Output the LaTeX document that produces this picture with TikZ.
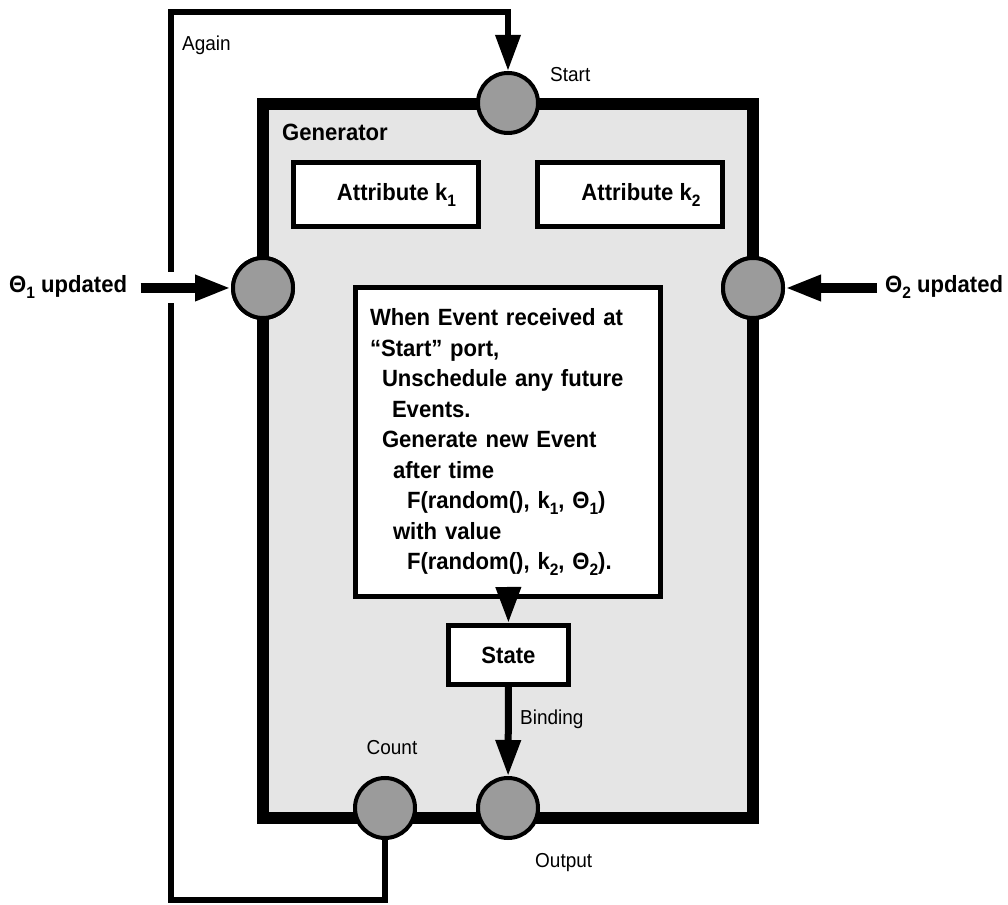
\documentclass[tikz,border=0pt]{standalone}
\usepackage{fontspec}
\setmainfont[FakeStretch=0.94]{Liberation Sans}
\usetikzlibrary{arrows.meta,calc}
\definecolor{cPanel}{HTML}{E5E5E5}
\definecolor{cPort} {HTML}{9B9B9B}
\newcommand{\lowidx}[1]{\raisebox{-6pt}{\fontsize{16.5}{17}\selectfont#1}}
\tikzset{
  panel/.style ={draw,line width=12pt,fill=cPanel,inner sep=0pt,
                 minimum width=490pt,minimum height=714pt},
  box/.style   ={draw,line width=5pt,fill=white,inner sep=0pt,
                 font=\bfseries\fontsize{23.5}{30.5}\selectfont},
  port/.style  ={circle,draw,line width=4pt,fill=cPort,inner sep=0pt,
                 minimum size=60pt},
  lbl/.style   ={font=\fontsize{20.2}{24}\selectfont,inner sep=0pt},
  ttl/.style   ={font=\bfseries\fontsize{23.5}{28}\selectfont,inner sep=0pt},
  wire/.style  ={line width=6.5pt,line join=miter},
  tip/.style   ={-{Triangle[length=36pt,width=24pt]}},
  sig/.style   ={tip,line width=7pt},
  feed/.style  ={tip,line width=10pt},
  gap/.style   ={preaction={draw=white,line width=31pt,-}},
}

\begin{document}
\begin{tikzpicture}[x=1pt,y=1pt]
\useasboundingbox (0,0) rectangle (1008,904);

\node[panel] (gen) at (508,443) {};
\node[ttl,anchor=base west] (genlbl) at ($(gen.north west)+(25,-43)$) {Generator};

\node[box,minimum width=185pt,minimum height=64pt] (k1) at (385.5,709)
  {\hspace*{22pt}Attribute k\lowidx{1}};
\node[box,minimum width=185pt,minimum height=64pt] (k2) at (630,709)
  {\hspace*{22pt}Attribute k\lowidx{2}};

\node[box,line width=4.7pt,align=left,text width=276pt,inner xsep=14.5pt,
      minimum height=309pt] (ev) at (508,462)
  {When Event received at\\
   ``Start'' port,\\
   \hspace*{12pt}Unschedule any future\\
   \hspace*{22pt}Events.\\
   \hspace*{12pt}Generate new Event\\
   \hspace*{23pt}after time\\
   \hspace*{37pt}F(random(), k\lowidx{1}, Θ\lowidx{1})\\
   \hspace*{23pt}with value\\
   \hspace*{37pt}F(random(), k\lowidx{2}, Θ\lowidx{2}).};

\node[box,minimum width=120pt,minimum height=59pt] (st) at (508.5,249) {State};

% ports sit on the panel edge
\node[port] (start) at (508,801) {};
\node[port] (lport) at (263,616) {};
\node[port] (rport) at (753,616) {};
\node[port] (count) at (385,96)  {};
\node[port] (outp)  at (508,96)  {};

% the Again loop, from Count back round to Start
\coordinate (lowL) at (171,4);
\coordinate (topL) at (171,892);
\draw[wire,tip] (count.south) |- (lowL) -- (topL) -| (start.north);

\node[ttl,anchor=base west] (th1) at (9,611) {Θ\lowidx{1} updated};
\node[ttl,anchor=base west] (th2) at (885,611) {Θ\lowidx{2} updated};
\draw[feed,gap,shorten <=13.5pt] (th1.east |- lport) -- (lport.west);
\draw[feed,shorten <=8pt] (th2.west |- rport) -- (rport.east);

\draw[sig] (ev) -- (st);
\draw[sig] (st) -- (outp);

\node[port] at (lport) {};
\node[port] at (rport) {};

\node[lbl,anchor=base west] (again) at ($(topL)+(11,-39)$) {Again};
\node[lbl,anchor=base west] (startlbl) at ($(start.center)+(42,21)$) {Start};
\node[lbl,anchor=base] (countlbl) at ($(count.center)+(7,53)$) {Count};
\node[lbl,anchor=base west] (outlbl) at ($(outp.center)+(27,-59)$) {Output};
\node[lbl,anchor=base west] (bindlbl) at ($(st.south)+(11.5,-38)$) {Binding};
\end{tikzpicture}
\end{document}
